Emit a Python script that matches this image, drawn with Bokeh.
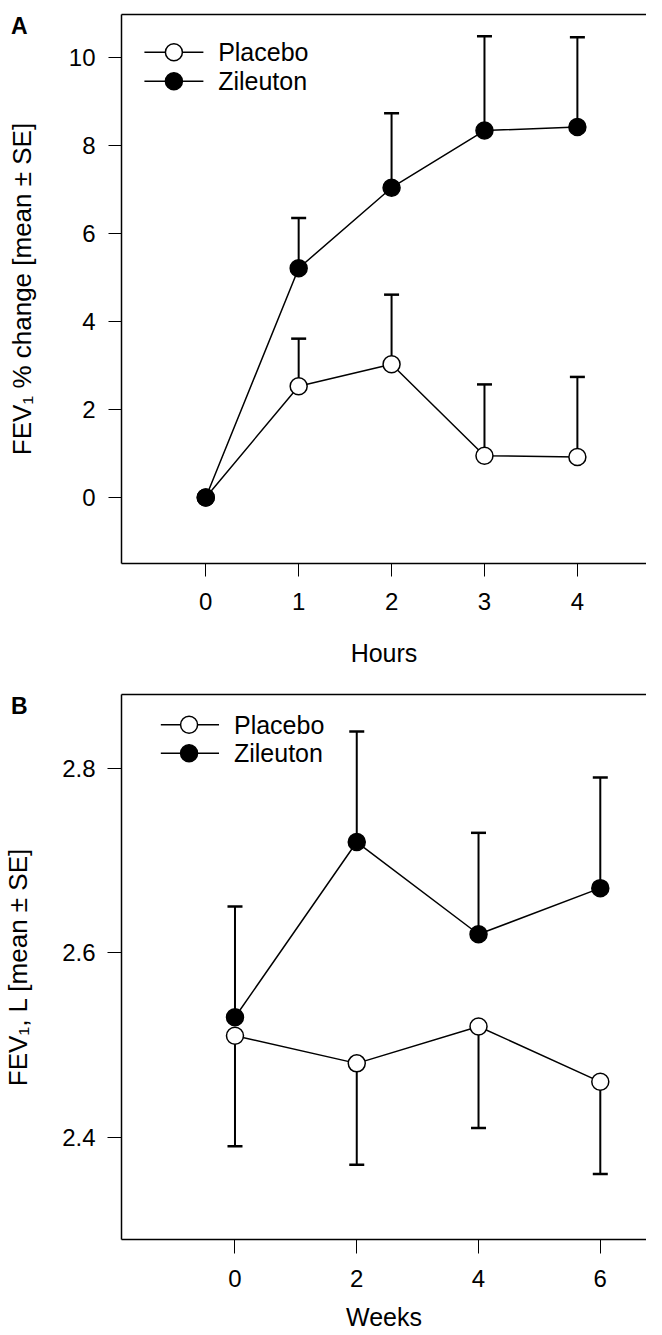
from bokeh.plotting import figure
from bokeh.models import LinearAxis, FixedTicker, Range1d, Div, GridBox
from bokeh.core.properties import value
from bokeh.embed import file_html
from bokeh.resources import INLINE

# ---- data ----
hours = [0, 1, 2, 3, 4]
placebo_a = [0, 2.53, 3.03, 0.95, 0.92]
placebo_a_se = [0, 1.08, 1.58, 1.62, 1.82]
zileuton_a = [0, 5.21, 7.04, 8.34, 8.42]
zileuton_a_se = [0, 1.14, 1.69, 2.14, 2.04]

weeks = [0, 2, 4, 6]
placebo_b = [2.51, 2.48, 2.52, 2.46]
placebo_b_se = [0.12, 0.11, 0.11, 0.10]
zileuton_b = [2.53, 2.72, 2.62, 2.67]
zileuton_b_se = [0.12, 0.12, 0.11, 0.12]

a_xticks = [0, 1, 2, 3, 4]
a_yticks = [0, 2, 4, 6, 8, 10]
b_xticks = [0, 2, 4, 6]
b_yticks = [2.4, 2.6, 2.8]

series_names = ["Placebo", "Zileuton"]
series_fill = ["white", "black"]

FONT = "Liberation Sans"
FIG_W = 646


def style_axis(ax, tick_out, standoff, label_standoff, label_size):
    ax.major_tick_in = 0
    ax.major_tick_out = tick_out
    ax.minor_tick_in = 0
    ax.minor_tick_out = 0
    ax.axis_line_width = 1.5
    ax.axis_line_color = "black"
    ax.major_tick_line_color = "black"
    ax.major_tick_line_width = 1
    ax.major_label_text_font = FONT
    ax.major_label_text_font_size = "24px"
    ax.major_label_text_color = "black"
    ax.major_label_standoff = standoff
    ax.axis_label_text_font = FONT
    ax.axis_label_text_font_size = label_size
    ax.axis_label_text_font_style = "normal"
    ax.axis_label_text_color = "black"
    ax.axis_label_standoff = label_standoff


def make_panel(x, plc, plc_err_end, zil, zil_err_end, xr, yr, xticks, yticks,
               xlabel, ylabel, height, b_left, b_top, b_bottom, frame_h,
               x_tick_out, x_standoff, x_label_standoff,
               y_tick_out, y_standoff, y_label_standoff, leg):
    frame_w = FIG_W - b_left
    upx = (xr[1] - xr[0]) / frame_w      # data units per pixel
    upy = (yr[1] - yr[0]) / frame_h

    def X(px):   # pixels from frame left -> data x
        return xr[0] + px * upx

    def Y(py):   # pixels below frame top -> data y
        return yr[1] - py * upy

    p = figure(width=FIG_W, height=height, x_range=Range1d(*xr), y_range=Range1d(*yr),
               output_backend="svg", toolbar_location=None,
               min_border_left=b_left, min_border_right=0,
               min_border_top=b_top, min_border_bottom=b_bottom)
    p.outline_line_color = None
    p.grid.visible = False
    p.background_fill_color = "white"
    p.border_fill_color = None

    p.xaxis.ticker = FixedTicker(ticks=xticks, minor_ticks=[])
    p.yaxis.ticker = FixedTicker(ticks=yticks, minor_ticks=[])
    p.xaxis.axis_label = xlabel
    p.yaxis.axis_label = ylabel
    for ax in p.xaxis:
        style_axis(ax, x_tick_out, x_standoff, x_label_standoff, "25px")
    for ax in p.yaxis:
        style_axis(ax, y_tick_out, y_standoff, y_label_standoff, "26px")

    top = LinearAxis(ticker=FixedTicker(ticks=[], minor_ticks=[]), major_tick_out=0,
                     major_tick_in=0, minor_tick_out=0, minor_tick_in=0,
                     major_label_standoff=0, major_label_text_font_size="0px",
                     axis_line_width=1.5, axis_line_color="black")
    p.add_layout(top, "above")

    # one-sided error bars (stem + cap)
    for ys, ends in ((plc, plc_err_end), (zil, zil_err_end)):
        keep = [i for i in range(len(x)) if ys[i] != ends[i]]
        xs = [x[i] for i in keep]
        y0 = [ys[i] for i in keep]
        y1 = [ends[i] for i in keep]
        p.segment(x0=xs, y0=y0, x1=xs, y1=y1, line_color="black", line_width=2)
        p.scatter(xs, y1, marker="dash", size=15, line_color="black", line_width=2.5)

    for ys in (plc, zil):
        p.line(x, ys, line_color="black", line_width=1.5)
    for ys, fill in ((plc, series_fill[0]), (zil, series_fill[1])):
        p.scatter(x, ys, size=17, fill_color=fill, line_color="black", line_width=1.5)

    # legend (drawn in the upper-left of the frame)
    lx0, lx1, lm, ltx, rows = leg
    for name, fill, ry in zip(series_names, series_fill, rows):
        p.line([X(lx0), X(lx1)], [Y(ry), Y(ry)], line_color="black", line_width=1.5)
        p.scatter([X(lm)], [Y(ry)], size=17, fill_color=fill, line_color="black",
                  line_width=1.5)
        p.text([X(ltx)], [Y(ry)], text=[name], text_font=value(FONT),
               text_font_size="25px", text_baseline="middle", text_align="left",
               text_color="black")
    return p


def panel_letter(letter, pad_top):
    css = {"font-family": "'Liberation Sans', Arial, sans-serif",
           "font-size": "23px", "font-weight": "bold", "line-height": "1",
           "color": "black", "padding-top": "%dpx" % pad_top, "padding-left": "6px",
           "box-sizing": "border-box", "z-index": "5"}
    html = ('<span style="font-size:23px; font-weight:bold; line-height:1; '
            'font-family: Liberation Sans, Arial, sans-serif;">%s</span>' % letter)
    return Div(text=html, width=40, height=40, styles=css)


plc_a_end = [m + s for m, s in zip(placebo_a, placebo_a_se)]
zil_a_end = [m + s for m, s in zip(zileuton_a, zileuton_a_se)]
plc_b_end = [m - s for m, s in zip(placebo_b, placebo_b_se)]
zil_b_end = [m + s for m, s in zip(zileuton_b, zileuton_b_se)]

pa = make_panel(hours, placebo_a, plc_a_end, zileuton_a, zil_a_end,
                (-0.907, 4.744), (-1.5, 10.977), a_xticks, a_yticks,
                "Hours", "FEV\u2081 % change [mean \u00b1 SE]",
                height=680, b_left=112, b_top=14, b_bottom=117, frame_h=549,
                x_tick_out=13, x_standoff=16, x_label_standoff=26,
                y_tick_out=13, y_standoff=13, y_label_standoff=29,
                leg=(23.3, 83.3, 53.3, 98.3, (37.7, 66.7)))

pb = make_panel(weeks, placebo_b, plc_b_end, zileuton_b, zil_b_end,
                (-1.864, 6.759), (2.289, 2.880), b_xticks, b_yticks,
                "Weeks", "FEV\u2081, L [mean \u00b1 SE]",
                height=655, b_left=120, b_top=14, b_bottom=96, frame_h=545,
                x_tick_out=14, x_standoff=16, x_label_standoff=13,
                y_tick_out=14, y_standoff=12, y_label_standoff=26,
                leg=(39.4, 97.7, 67.7, 112.7, (30.3, 58.7)))

layout = GridBox(children=[(pa, 0, 0), (panel_letter("A", 10), 0, 0),
                           (pb, 1, 0), (panel_letter("B", 10), 1, 0)], spacing=0)
open("out.html", "w").write(file_html(layout, INLINE))
